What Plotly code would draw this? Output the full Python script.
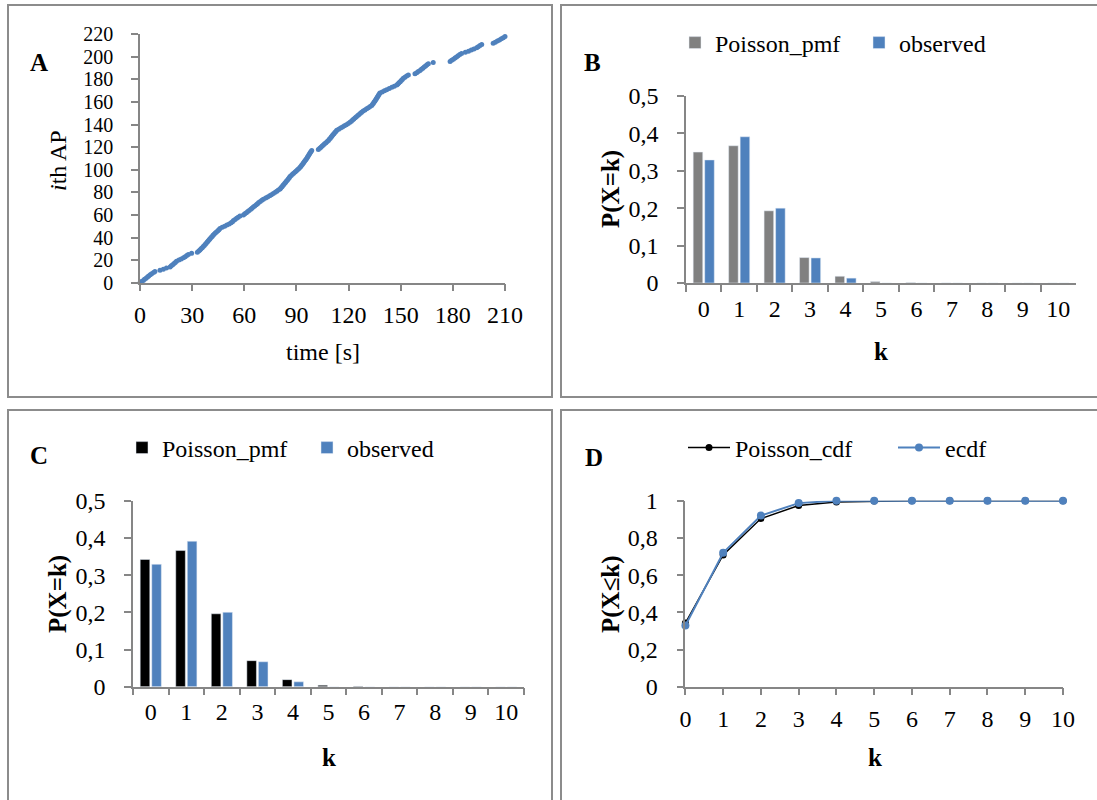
import plotly.graph_objects as go

# ---------------- data ----------------
# Panel A: spike (action potential) times in seconds
spike_times = [
    0.0, 0.8, 1.9, 2.6, 3.5, 4.3, 5.0, 5.9, 6.7, 7.8, 8.6,
    11.5, 13.4, 15.2, 17.3, 18.0, 18.8, 19.6, 20.3, 21.0, 22.4, 23.7, 25.0,
    26.0, 26.9, 27.8, 29.7,
    33.0, 33.8, 34.5, 35.1, 35.8, 36.4, 37.0, 37.6, 38.1, 38.7, 39.2, 39.8, 40.3,
    40.9, 41.5, 42.0, 42.6, 43.3, 44.0, 44.8, 45.4, 46.0, 47.3, 48.7, 50.0,
    51.3, 52.4, 53.2, 53.8, 54.7, 55.6, 56.5, 57.5, 59.5,
    60.3, 61.2, 62.0, 62.8, 63.7, 64.4, 65.2, 66.0, 66.9, 67.6, 68.3, 69.2, 70.1, 71.0,
    72.3, 73.4, 74.6, 75.6, 76.7, 77.8, 78.7, 79.6, 80.6,
    81.1, 81.7, 82.2, 82.7, 83.3, 83.8, 84.3, 84.9, 85.4, 85.9, 86.3,
    87.0, 87.7, 88.4, 89.2, 89.9, 90.6, 91.3, 92.0,
    92.5, 93.0, 93.5, 94.0, 94.4, 94.9, 95.4, 95.9,
    96.3, 96.7, 97.1, 97.5, 97.9, 98.3, 98.8,
    102.6, 103.4, 104.1, 104.8, 105.5, 106.2, 107.0, 107.7, 108.4,
    108.9, 109.5, 110.0, 110.5, 111.0, 111.6, 112.1, 112.7, 113.2,
    114.3, 115.4, 116.5, 117.6, 118.7, 119.8, 120.8,
    121.6, 122.3, 123.0, 123.8, 124.5, 125.3, 126.0, 126.8, 127.5,
    128.4, 129.4, 130.4, 131.4, 132.4, 133.3, 133.8, 134.3, 134.7, 135.2,
    135.6, 136.0, 136.4, 136.8, 137.2, 137.6, 138.0, 139.3, 140.6, 141.9,
    143.4, 144.9, 146.3, 147.7, 148.4, 149.0, 149.7, 150.3, 150.9, 151.5,
    152.4, 153.4, 154.4,
    158.2, 159.2, 160.1, 161.1, 161.9, 162.7, 163.5, 164.3, 165.1, 165.9, 168.7,
    178.4, 179.3, 180.3, 181.2, 182.1, 183.0, 184.0, 185.0, 187.2, 189.0,
    190.6, 192.1, 193.7, 194.6, 195.6, 196.6,
    203.2, 204.4, 205.6, 206.8, 207.9, 209.0, 210.0,
]
ap_index = list(range(len(spike_times)))  # i-th action potential

k_labels = ["0", "1", "2", "3", "4", "5", "6", "7", "8", "9", "10"]
k_values = [0, 1, 2, 3, 4, 5, 6, 7, 8, 9, 10]

# Panel B
poisson_pmf_b = [0.350, 0.367, 0.193, 0.068, 0.018, 0.004, 0.001, 0.0001, 0.0, 0.0, 0.0]
observed_b = [0.329, 0.391, 0.200, 0.067, 0.013, 0.0, 0.0, 0.0, 0.0, 0.0, 0.0]

# Panel C
poisson_pmf_c = [0.342, 0.366, 0.196, 0.070, 0.019, 0.004, 0.001, 0.0001, 0.0, 0.0, 0.0]
observed_c = [0.329, 0.391, 0.200, 0.067, 0.013, 0.0, 0.0, 0.0, 0.0, 0.0, 0.0]

# Panel D
poisson_cdf = [0.342, 0.708, 0.904, 0.974, 0.993, 0.998, 1.0, 1.0, 1.0, 1.0, 1.0]
ecdf = [0.329, 0.720, 0.920, 0.987, 1.0, 1.0, 1.0, 1.0, 1.0, 1.0, 1.0]

# ---------------- styling ----------------
W, H = 1097, 800
FONT = "Liberation Serif"
BLUE = "#4f81bd"
GREY_BAR = "#808080"
AXIS = "#868686"
FS = 24


def X(px):
    return px / W


def Y(py):
    return 1 - py / H


fig = go.Figure()

# Panel A
fig.add_trace(go.Scatter(x=spike_times, y=ap_index, mode="markers",
                         marker=dict(color=BLUE, size=5), cliponaxis=False,
                         showlegend=False, xaxis="x", yaxis="y"))

# Panel B
fig.add_trace(go.Bar(x=k_labels, y=poisson_pmf_b, name="Poisson_pmf", marker_color=GREY_BAR,
                     xaxis="x2", yaxis="y2", legend="legend", offsetgroup="p"))
fig.add_trace(go.Bar(x=k_labels, y=observed_b, name="observed", marker_color=BLUE,
                     xaxis="x2", yaxis="y2", legend="legend", offsetgroup="o"))

# Panel C
fig.add_trace(go.Bar(x=k_labels, y=poisson_pmf_c, name="Poisson_pmf", marker_color="#000000",
                     xaxis="x3", yaxis="y3", legend="legend2", offsetgroup="p"))
fig.add_trace(go.Bar(x=k_labels, y=observed_c, name="observed", marker_color=BLUE,
                     xaxis="x3", yaxis="y3", legend="legend2", offsetgroup="o"))

# Panel D
fig.add_trace(go.Scatter(x=k_values, y=poisson_cdf, name="Poisson_cdf", mode="lines+markers",
                         line=dict(color="#000000", width=1.5), marker=dict(color="#000000", size=7),
                         cliponaxis=False, xaxis="x4", yaxis="y4", legend="legend3"))
fig.add_trace(go.Scatter(x=k_values, y=ecdf, name="ecdf", mode="lines+markers",
                         line=dict(color=BLUE, width=2), marker=dict(color=BLUE, size=8),
                         cliponaxis=False, xaxis="x4", yaxis="y4", legend="legend3"))

tickfont = dict(family=FONT, size=FS, color="#000000")
common = dict(showline=True, linecolor=AXIS, linewidth=1.5, ticks="outside", ticklen=7,
              tickwidth=1.5, tickcolor=AXIS, showgrid=False, zeroline=False,
              fixedrange=True, automargin=False)

legend_common = dict(orientation="h", xanchor="left", yanchor="middle",
                     bgcolor="rgba(0,0,0,0)", font=dict(family=FONT, size=FS),
                     itemclick=False, entrywidthmode="pixels")

layout = dict(
    width=W, height=H, margin=dict(l=0, r=0, t=0, b=0, autoexpand=False),
    paper_bgcolor="white", plot_bgcolor="white",
    separators=", ",
    barmode="group", bargap=0.35, bargroupgap=0.17,
    font=dict(family=FONT, size=FS, color="#000000"),
    xaxis=dict(domain=[X(140), X(505)], range=[0, 210], dtick=30, tick0=0,
               anchor="y", ticklabelstandoff=3, tickfont=tickfont, **common),
    yaxis=dict(domain=[Y(282.7), Y(34.3)], range=[0, 220], dtick=20, tick0=0,
               anchor="x", ticklabelstandoff=14,
               tickfont=dict(family=FONT, size=20, color="#000000"), **common),
    xaxis2=dict(domain=[X(686), X(1076)], type="category", tickson="boundaries",
                range=[-0.5, 10.5], anchor="y2", ticklabelstandoff=3, tickfont=tickfont, **common),
    yaxis2=dict(domain=[Y(283), Y(96)], range=[0, 0.5], dtick=0.1, tick0=0,
                anchor="x2", ticklabelstandoff=14, tickfont=tickfont, **common),
    xaxis3=dict(domain=[X(133), X(524)], type="category", tickson="boundaries",
                range=[-0.5, 10.5], anchor="y3", ticklabelstandoff=3, tickfont=tickfont, **common),
    yaxis3=dict(domain=[Y(686.7), Y(500.7)], range=[0, 0.5], dtick=0.1, tick0=0,
                anchor="x3", ticklabelstandoff=14, tickfont=tickfont, **common),
    xaxis4=dict(domain=[X(685.4), X(1063)], range=[0, 10], dtick=1, tick0=0,
                anchor="y4", ticklabelstandoff=3, tickfont=tickfont, **common),
    yaxis4=dict(domain=[Y(686.7), Y(500.7)], range=[0, 1], dtick=0.2, tick0=0,
                anchor="x4", ticklabelstandoff=14, tickfont=tickfont, **common),
    legend=dict(x=X(675), y=Y(43), entrywidth=139, **legend_common),
    legend2=dict(x=X(122), y=Y(448), entrywidth=140, **legend_common),
    legend3=dict(x=X(683), y=Y(448), entrywidth=153, itemwidth=42, **legend_common),
)

# panel frames
frames = [(8, 5, 552, 397), (561, 5, 1102, 397), (8, 410, 552, 805), (561, 410, 1102, 805)]
shapes = []
for x0, y0, x1, y1 in frames:
    shapes.append(dict(type="rect", xref="paper", yref="paper",
                       x0=X(x0), x1=X(x1), y0=Y(y1), y1=Y(y0),
                       line=dict(color="#8c8c8c", width=2), fillcolor="rgba(0,0,0,0)",
                       layer="below"))
layout["shapes"] = shapes

annots = []


def ann(text, px, py, size=FS, angle=0):
    annots.append(dict(text=text, x=X(px), y=Y(py), xref="paper", yref="paper",
                       showarrow=False, textangle=angle, xanchor="center", yanchor="middle",
                       font=dict(family=FONT, size=size, color="#000000")))


# panel letters
ann("<b>A</b>", 39, 63, 25)
ann("<b>B</b>", 592, 62, 25)
ann("<b>C</b>", 39, 456, 25)
ann("<b>D</b>", 594, 457, 25)
# axis titles
ann("<i>i</i>th AP", 58, 161, FS, -90)
ann("time [s]", 323, 352, FS)
ann("<b>P(X=k)</b>", 611, 189, 25, -90)
ann("<b>k</b>", 881, 352, 25)
ann("<b>P(X=k)</b>", 58, 594, 25, -90)
ann("<b>k</b>", 329, 757, 25)
ann("<b>P(X≤k)</b>", 611, 594, 25, -90)
ann("<b>k</b>", 875, 757, 25)
layout["annotations"] = annots

fig.update_layout(**layout)
fig.write_html("out.html")
